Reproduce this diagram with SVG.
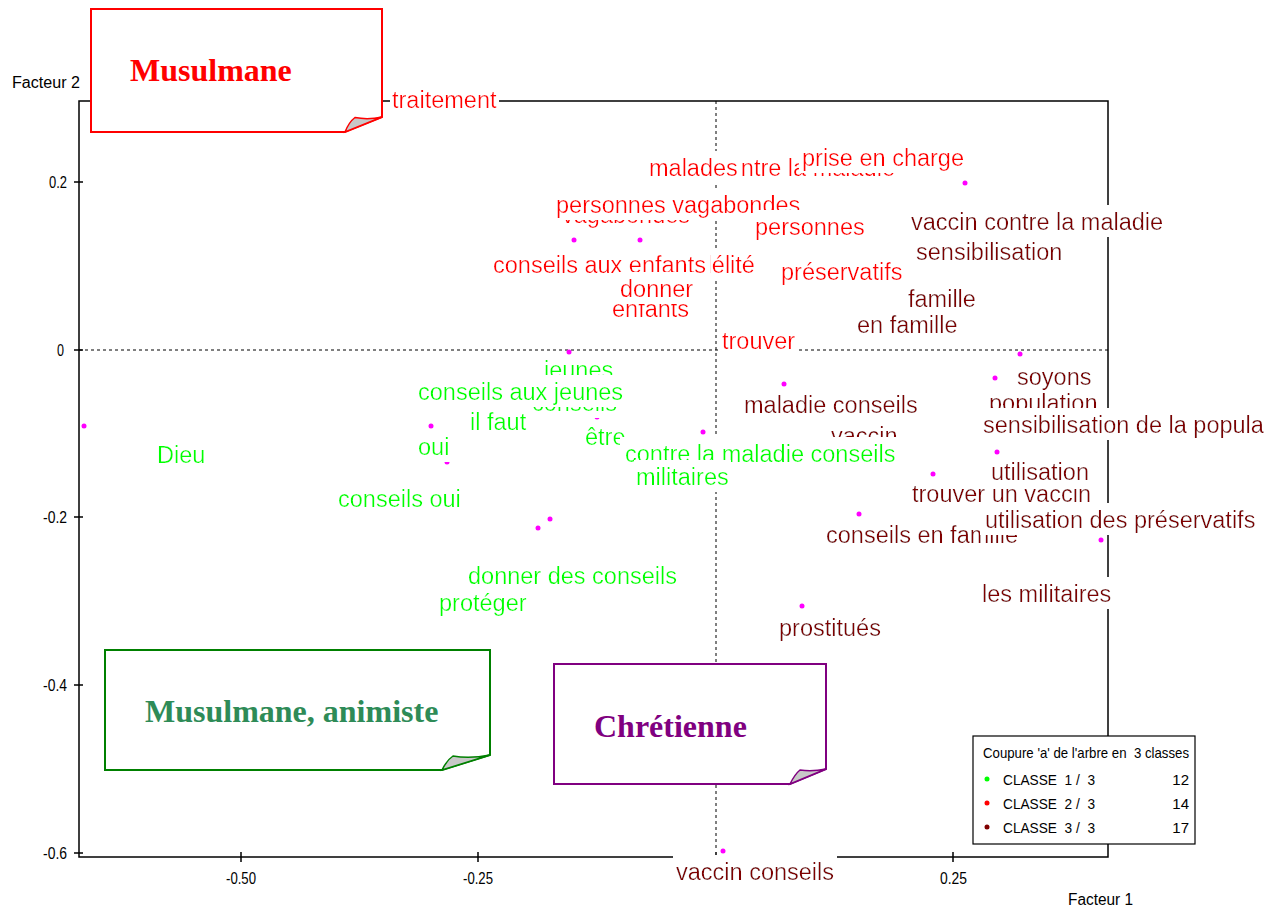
<svg xmlns="http://www.w3.org/2000/svg" width="1280" height="911" viewBox="0 0 1280 911">
  <defs>
    <!-- opaque white box behind each word label -->
    <filter id="bg" x="-0.015" y="-0.15" width="1.03" height="1.2">
      <feFlood flood-color="#ffffff"/>
      <feComposite in="SourceGraphic"/>
    </filter>
    <style>
      .lbl { font-family: "Liberation Sans", Arial, sans-serif; font-size: 23.5px; filter: url(#bg); }
      .c1 { fill: #00ff00; }
      .c2 { fill: #ff0000; }
      .c3 { fill: #800000; }
      .pt { fill: #ff00ff; }
      .ax { stroke: #000; stroke-width: 1.5; fill: none; }
      .dash { stroke: #000; stroke-width: 1; stroke-dasharray: 3 3; fill: none; }
      .small { font-family: "Liberation Sans", Arial, sans-serif; font-size: 16px; fill: #000; }
      .leg { font-family: "Liberation Sans", Arial, sans-serif; font-size: 15px; fill: #000; }
      .title { font-family: "Liberation Serif", "Times New Roman", serif; font-size: 32px; font-weight: bold; }
      .fold { fill: #c8c8c8; stroke-width: 1.5; }
    </style>
  </defs>
  <rect width="1280" height="911" fill="#ffffff"/>

  <!-- frame, ticks and origin lines -->
  <g id="axes">
    <rect class="ax" x="79" y="101" width="1029" height="756"/>
    <line class="dash" x1="79" y1="350" x2="1108" y2="350"/>
    <line class="dash" x1="716" y1="101" x2="716" y2="851"/>
    <path class="ax" d="M74,182 H83 M74,350 H83 M74,517 H83 M74,685 H83 M74,853 H83"/>
    <path class="ax" d="M241,852 V862 M478,852 V862 M716,852 V862 M953,852 V862"/>
    <text class="small" x="67" y="188" text-anchor="end" textLength="18" lengthAdjust="spacingAndGlyphs">0.2</text>
    <text class="small" x="64" y="356" text-anchor="end" textLength="7" lengthAdjust="spacingAndGlyphs">0</text>
    <text class="small" x="67" y="523" text-anchor="end" textLength="24" lengthAdjust="spacingAndGlyphs">-0.2</text>
    <text class="small" x="67" y="691" text-anchor="end" textLength="24" lengthAdjust="spacingAndGlyphs">-0.4</text>
    <text class="small" x="67" y="859" text-anchor="end" textLength="24" lengthAdjust="spacingAndGlyphs">-0.6</text>
    <text class="small" x="226" y="884" textLength="30" lengthAdjust="spacingAndGlyphs">-0.50</text>
    <text class="small" x="463" y="884" textLength="30" lengthAdjust="spacingAndGlyphs">-0.25</text>
    <text class="small" x="940" y="884" textLength="27" lengthAdjust="spacingAndGlyphs">0.25</text>
    <text class="small" x="1068" y="905" textLength="65" lengthAdjust="spacingAndGlyphs">Facteur 1</text>
    <text class="small" x="12" y="88" textLength="68" lengthAdjust="spacingAndGlyphs">Facteur 2</text>
  </g>

  <!-- markers partly hidden under word boxes -->
  <g id="points-under">
    <circle class="pt" cx="447" cy="462" r="2.5"/>
    <circle class="pt" cx="597" cy="417" r="2.5"/>
  </g>

  <!-- class 2 words -->
  <g id="classe-2">
    <text class="lbl c2" x="716" y="176">contre la maladie</text>
    <text class="lbl c2" x="649" y="176">malades</text>
    <text class="lbl c2" x="802" y="166">prise en charge</text>
    <text class="lbl c2" x="562" y="223">vagabondes</text>
    <text class="lbl c2" x="556" y="213">personnes vagabondes</text>
    <text class="lbl c2" x="755" y="235">personnes</text>
    <text class="lbl c2" x="687" y="273">fidélité</text>
    <text class="lbl c2" x="493" y="273">conseils aux enfants</text>
    <text class="lbl c2" x="612" y="317">enfants</text>
    <text class="lbl c2" x="620" y="297">donner</text>
    <text class="lbl c2" x="781" y="280">préservatifs</text>
    <text class="lbl c2" x="722" y="349">trouver</text>
    <text class="lbl c2" x="392" y="108">traitement</text>
  </g>

  <!-- class 3 words -->
  <g id="classe-3">
    <text class="lbl c3" x="911" y="230">vaccin contre la maladie</text>
    <text class="lbl c3" x="916" y="260">sensibilisation</text>
    <text class="lbl c3" x="908" y="307">famille</text>
    <text class="lbl c3" x="857" y="333">en famille</text>
    <text class="lbl c3" x="989" y="411">population</text>
    <text class="lbl c3" x="1017" y="385">soyons</text>
    <text class="lbl c3" x="983" y="433">sensibilisation de la popula</text>
    <text class="lbl c3" x="831" y="444">vaccin</text>
    <text class="lbl c3" x="744" y="413">maladie conseils</text>
    <text class="lbl c3" x="912" y="502">trouver un vaccin</text>
    <text class="lbl c3" x="991" y="480">utilisation</text>
    <text class="lbl c3" x="826" y="543">conseils en famille</text>
    <text class="lbl c3" x="985" y="528">utilisation des préservatifs</text>
    <text class="lbl c3" x="982" y="602">les militaires</text>
    <text class="lbl c3" x="779" y="636">prostitués</text>
    <text class="lbl c3" x="676" y="880">vaccin conseils</text>
  </g>

  <!-- class 1 words -->
  <g id="classe-1">
    <text class="lbl c1" x="544" y="378">jeunes</text>
    <text class="lbl c1" x="532" y="411">conseils</text>
    <text class="lbl c1" x="418" y="400">conseils aux jeunes</text>
    <text class="lbl c1" x="470" y="430">il faut</text>
    <text class="lbl c1" x="418" y="455">oui</text>
    <text class="lbl c1" x="585" y="445">être</text>
    <text class="lbl c1" x="625" y="462">contre la maladie conseils</text>
    <text class="lbl c1" x="636" y="485">militaires</text>
    <text class="lbl c1" x="338" y="507">conseils oui</text>
    <text class="lbl c1" x="157" y="463">Dieu</text>
    <text class="lbl c1" x="468" y="584">donner des conseils</text>
    <text class="lbl c1" x="439" y="611">protéger</text>
  </g>

  <!-- point markers -->
  <g id="points">
    <circle class="pt" cx="84" cy="426" r="2.5"/>
    <circle class="pt" cx="431" cy="426" r="2.5"/>
    <circle class="pt" cx="569" cy="352" r="2.5"/>
    <circle class="pt" cx="538" cy="528" r="2.5"/>
    <circle class="pt" cx="550" cy="519" r="2.5"/>
    <circle class="pt" cx="703" cy="432" r="2.5"/>
    <circle class="pt" cx="574" cy="240" r="2.5"/>
    <circle class="pt" cx="640" cy="240" r="2.5"/>
    <circle class="pt" cx="965" cy="183" r="2.5"/>
    <circle class="pt" cx="1020" cy="354" r="2.5"/>
    <circle class="pt" cx="995" cy="378" r="2.5"/>
    <circle class="pt" cx="784" cy="384" r="2.5"/>
    <circle class="pt" cx="997" cy="452" r="2.5"/>
    <circle class="pt" cx="933" cy="474" r="2.5"/>
    <circle class="pt" cx="859" cy="514" r="2.5"/>
    <circle class="pt" cx="1101" cy="540" r="2.5"/>
    <circle class="pt" cx="802" cy="606" r="2.5"/>
    <circle class="pt" cx="723" cy="851" r="2.5"/>
  </g>

  <!-- religion notes with folded corner -->
  <g id="note-musulmane">
    <path d="M91,9 H382 V117 L345,132 H91 Z" fill="#ffffff" stroke="#ff0000" stroke-width="2"/>
    <path class="fold" stroke="#ff0000" d="M345,132 Q349,122 355,117.5 Q368,120 382,117 Z"/>
    <text class="title" x="130" y="81" fill="#ff0000">Musulmane</text>
  </g>
  <g id="note-musulmane-animiste">
    <path d="M105,650 H490 V755 L442,770 H105 Z" fill="#ffffff" stroke="#008000" stroke-width="2"/>
    <path class="fold" stroke="#008000" d="M442,770 Q447,760 453,756 Q470,759 490,755 Z"/>
    <text class="title" x="145" y="722" fill="#2e8b57">Musulmane, animiste</text>
  </g>
  <g id="note-chretienne">
    <path d="M554,664 H826 V769 L790,784 H554 Z" fill="#ffffff" stroke="#800080" stroke-width="2"/>
    <path class="fold" stroke="#800080" d="M790,784 Q795,774 800,770 Q812,772 826,769 Z"/>
    <text class="title" x="594" y="737" fill="#800080">Chrétienne</text>
  </g>

  <!-- legend -->
  <g id="legend">
    <rect x="973" y="736" width="222" height="108" fill="#ffffff" stroke="#000" stroke-width="1.2"/>
    <text class="leg" x="983" y="758" xml:space="preserve" textLength="206" lengthAdjust="spacingAndGlyphs">Coupure 'a' de l'arbre en  3 classes</text>
    <circle cx="987" cy="779" r="2.5" fill="#00ff00"/>
    <text class="leg" x="1003" y="785" xml:space="preserve" textLength="92" lengthAdjust="spacingAndGlyphs">CLASSE  1 /  3</text>
    <text class="leg" x="1189" y="785" text-anchor="end">12</text>
    <circle cx="987" cy="803" r="2.5" fill="#ff0000"/>
    <text class="leg" x="1003" y="809" xml:space="preserve" textLength="92" lengthAdjust="spacingAndGlyphs">CLASSE  2 /  3</text>
    <text class="leg" x="1189" y="809" text-anchor="end">14</text>
    <circle cx="987" cy="827" r="2.5" fill="#800000"/>
    <text class="leg" x="1003" y="833" xml:space="preserve" textLength="92" lengthAdjust="spacingAndGlyphs">CLASSE  3 /  3</text>
    <text class="leg" x="1189" y="833" text-anchor="end">17</text>
  </g>
</svg>
